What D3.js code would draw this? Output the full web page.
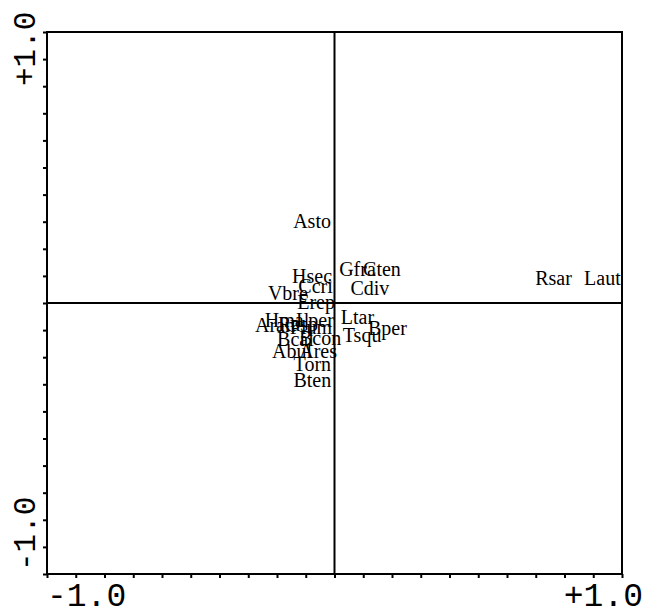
<!DOCTYPE html>
<html>
<head>
<meta charset="utf-8">
<script src="https://cdn.jsdelivr.net/npm/d3@7"></script>
<style>
  html, body { margin: 0; padding: 0; background: #fff; }
  svg { display: block; }
</style>
</head>
<body>
<svg id="chart" width="658" height="615"></svg>
<script>
// ---- data ----
const species = ["Asto","Hsec","Ccri","Vbre","Erep","Hmal","Lper","Aran","Rasp","Plum","Bcal","Bcon","Abul","Ares","Torn","Bten","Gfra","Cten","Cdiv","Ltar","Tsqu","Bper","Rsar","Laut"];
const axis1 = [-0.078,-0.078,-0.066,-0.162,-0.064,-0.165,-0.068,-0.207,-0.127,-0.082,-0.136,-0.050,-0.148,-0.057,-0.077,-0.077,0.080,0.165,0.123,0.080,0.096,0.184,0.762,0.932];
const axis2 = [0.303,0.100,0.063,0.037,0.004,-0.063,-0.063,-0.081,-0.077,-0.089,-0.133,-0.129,-0.177,-0.177,-0.225,-0.284,0.125,0.125,0.055,-0.052,-0.118,-0.092,0.092,0.092];
const xTickLabels = ["-1.0","+1.0"];
const yTickLabels = ["-1.0","+1.0"];
const domainMin = -1.0, domainMax = 1.0;

(function () {
// ---- layout ----
const svg = d3.select("#chart");
const mLeft = 47, mRight = 622, mTop = 32, mBottom = 574;
const x = d3.scaleLinear().domain([domainMin, domainMax]).range([mLeft, mRight]);
const y = d3.scaleLinear().domain([domainMin, domainMax]).range([mBottom, mTop]);

// ticks (outside, bottom and left)
const xAxis = d3.axisBottom(x).ticks(20).tickSize(4).tickFormat("");
const yAxis = d3.axisLeft(y).ticks(20).tickSize(4).tickFormat("");
const gx = svg.append("g").attr("transform", `translate(0,${mBottom})`).call(xAxis);
const gy = svg.append("g").attr("transform", `translate(${mLeft},0)`).call(yAxis);
[gx, gy].forEach(g => {
  g.select(".domain").remove();
  g.selectAll(".tick line").attr("stroke", "#000").attr("stroke-width", 2);
});

// frame
svg.append("rect")
  .attr("x", x(domainMin)).attr("y", y(domainMax))
  .attr("width", x(domainMax) - x(domainMin))
  .attr("height", y(domainMin) - y(domainMax))
  .attr("fill", "none").attr("stroke", "#000").attr("stroke-width", 2);

// zero lines
svg.append("line")
  .attr("x1", x(0)).attr("x2", x(0)).attr("y1", y(domainMax)).attr("y2", y(domainMin))
  .attr("stroke", "#000").attr("stroke-width", 2);
svg.append("line")
  .attr("x1", x(domainMin)).attr("x2", x(domainMax)).attr("y1", y(0)).attr("y2", y(0))
  .attr("stroke", "#000").attr("stroke-width", 2);

// axis end labels
const monoFont = "'Liberation Mono', 'Courier New', monospace";
svg.append("text").text(xTickLabels[0])
  .attr("x", x(domainMin)).attr("y", 606)
  .attr("text-anchor", "start")
  .style("font-family", monoFont).style("font-size", "33px");
svg.append("text").text(xTickLabels[1])
  .attr("x", x(domainMax) + 21).attr("y", 606)
  .attr("text-anchor", "end")
  .style("font-family", monoFont).style("font-size", "33px");
svg.append("text").text(yTickLabels[0])
  .attr("transform", `translate(35,${y(domainMin) - 3}) rotate(-90)`)
  .attr("text-anchor", "start")
  .style("font-family", monoFont).style("font-size", "31px");
svg.append("text").text(yTickLabels[1])
  .attr("transform", `translate(35,${y(domainMax) + 54}) rotate(-90)`)
  .attr("text-anchor", "start")
  .style("font-family", monoFont).style("font-size", "31px");

// species labels
const pts = species.map((s, i) => ({ name: s, a1: axis1[i], a2: axis2[i] }));
svg.append("g").selectAll("text").data(pts).join("text")
  .attr("x", d => x(d.a1))
  .attr("y", d => y(d.a2))
  .attr("dy", "0.35em")
  .attr("text-anchor", "middle")
  .style("font-family", "'Liberation Serif', 'Times New Roman', serif")
  .style("font-size", "20px")
  .text(d => d.name);
})();
</script>
</body>
</html>
